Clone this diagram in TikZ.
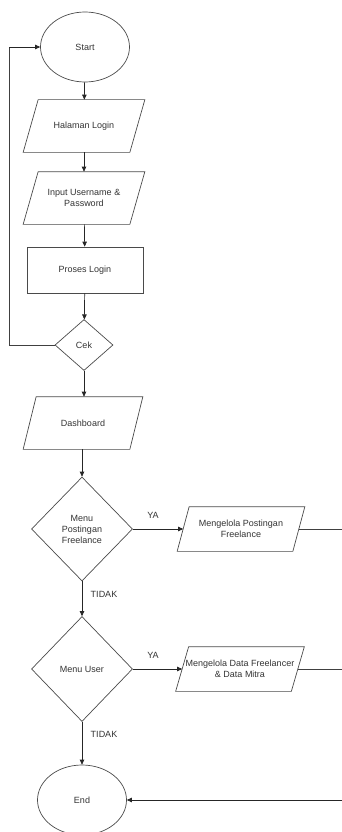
\documentclass[tikz,border=0pt]{standalone}
\usepackage{fontspec}
\setmainfont{Liberation Sans}
\usetikzlibrary{shapes.geometric,arrows.meta}
\definecolor{shapeline}{HTML}{4A4A4A}
\definecolor{txt}{HTML}{333333}
\tikzset{
  base/.style={draw=shapeline, line width=0.7pt, font=\fontsize{9}{11}\selectfont, text=txt, align=center, inner sep=0pt},
  term/.style={base, ellipse, minimum width=89pt, minimum height=70pt},
  io/.style={base, draw=none, rectangle, minimum width=106pt, minimum height=52pt},
  iosmall/.style={base, draw=none, rectangle, minimum width=115pt, minimum height=44pt},
  pline/.style={draw=shapeline, line width=0.7pt, line join=miter},
  proc/.style={base, rectangle, minimum width=116pt, minimum height=46pt},
  dec/.style={base, diamond, aspect=1},
  conn/.style={line width=0.7pt, draw=black!85, -{Triangle[length=5pt,width=4.5pt]}},
  plain/.style={line width=0.7pt, draw=black!75},
  lbl/.style={font=\fontsize{9}{11}\selectfont, text=txt, inner sep=0pt}
}
\newcommand\drawpara[2]{\draw[pline] ([xshift=#2]#1.north west) -- ([xshift=#2]#1.north east) -- ([xshift=-#2]#1.south east) -- ([xshift=-#2]#1.south west) -- cycle;}
\begin{document}
\begin{tikzpicture}[x=1pt,y=-1pt]
\useasboundingbox (0,0) rectangle (342,832);
\node[term] (start) at (85,47) {Start};
\node[io] (hal) at (84,126) {Halaman Login};
\node[io] (inp) at (84,198) {Input Username \&\\Password};
\node[proc] (pro) at (85,270) {Proses Login};
\node[dec, minimum width=58pt, minimum height=51pt] (cek) at (84,345) {Cek};
\node[io] (dash) at (83,423) {Dashboard};
\node[dec, minimum width=101pt, minimum height=104pt] (mpf) at (82,529) {Menu\\Postingan\\Freelance};
\node[iosmall] (kpf) at (241,529) {Mengelola Postingan\\Freelance};
\node[dec, minimum width=101pt, minimum height=105pt] (mu) at (82,669) {Menu User};
\node[iosmall] (kdf) at (240,669) {Mengelola Data Freelancer\\\& Data Mitra};
\node[term] (end) at (82,800) {End};

\drawpara{hal}{7.5pt}
\drawpara{inp}{7.5pt}
\drawpara{dash}{6.5pt}
\drawpara{kpf}{6pt}
\drawpara{kdf}{6.5pt}

\coordinate (lp1) at (9,345);
\coordinate (lp2) at (9,47);
\coordinate (r1) at (342,529);
\coordinate (r2) at (342,669);
\coordinate (r3) at (342,800);

\draw[conn] (start) -- (hal);
\draw[conn] (hal) -- (inp);
\draw[conn] (inp) -- (pro);
\draw[conn] (pro) -- (cek);
\draw[conn] (cek.south) -- (cek.south |- dash.north);
\draw[plain] (cek.west) -- (lp1) -- (lp2);
\draw[conn] (lp2) -- (start.west);
\draw[conn] (dash.south -| mpf.north) -- (mpf.north);
\draw[conn] (mpf.east) -- (kpf.west);
\draw[conn] (mpf.south) -- (mu.north);
\draw[conn] (mu.east) -- (kdf.west);
\draw[conn] (mu.south) -- (end.north);
\draw[plain] (kpf.east) -- (r1);
\draw[plain] (kdf.east) -- (r2);
\draw[conn] (r3) -- (end.east);

\node[lbl] (ya1) at (153,515) {YA};
\node[lbl] (td1) at (104,594) {TIDAK};
\node[lbl] (ya2) at (153,655) {YA};
\node[lbl] (td2) at (104,734) {TIDAK};
\end{tikzpicture}
\end{document}
